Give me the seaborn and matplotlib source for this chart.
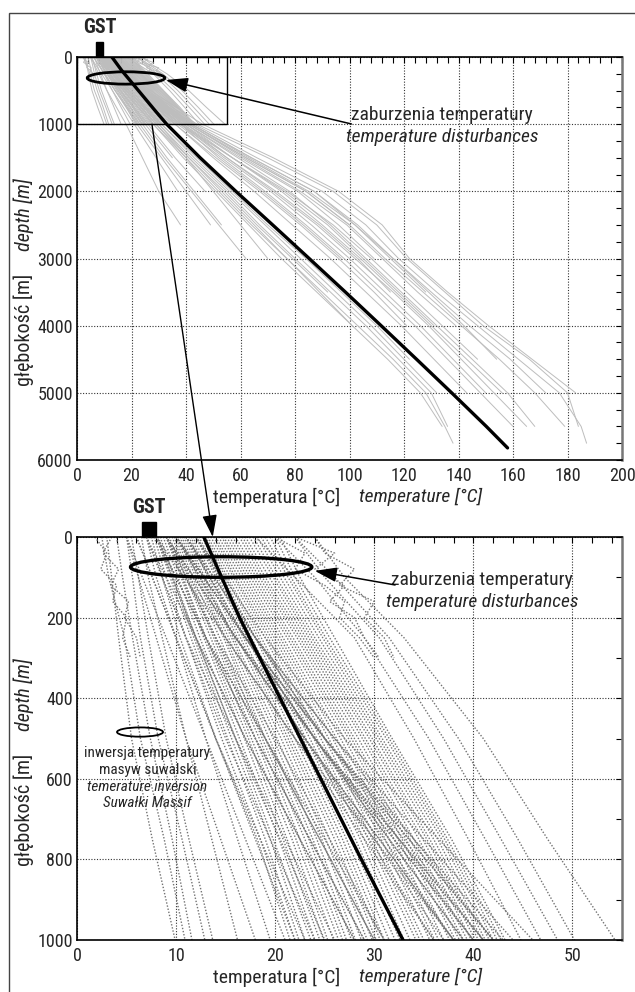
import matplotlib
matplotlib.use("Agg")
import matplotlib.pyplot as plt
import matplotlib.transforms as mtransforms
from matplotlib import font_manager as fm
from matplotlib.patches import Ellipse, Rectangle, ConnectionPatch
from matplotlib.ticker import MultipleLocator
import pandas as pd
import seaborn as sns

sns.set_theme(style="white")

# pick a condensed sans family (narrow lettering)
_condensed = {}
for f in fm.fontManager.ttflist:
    if (f.stretch in ("condensed", "semi-condensed", "extra-condensed")
            or "Narrow" in f.name or "Condensed" in f.name):
        _condensed.setdefault(f.name, set()).add(f.style)
FAMILY, STRETCH = "Liberation Sans", "normal"
for fam in ["Liberation Sans Narrow", "Roboto Condensed", "Noto Sans", "Open Sans",
            "DejaVu Sans Condensed", "DejaVu Sans", "Inter", "Lato", "Roboto"]:
    if fam in _condensed:
        FAMILY = fam
        STRETCH = "normal" if ("Narrow" in fam or "Condensed" in fam) else "condensed"
        break
plt.rcParams["font.family"] = [FAMILY, "DejaVu Sans"]
plt.rcParams["font.stretch"] = STRETCH

# ---- mean geotherm -------------------------------------------------------
MEAN_Z = [0, 200, 400, 600, 800, 1000, 1500, 2000, 2500, 3000, 3500, 4000, 4500,
          5000, 5500, 5820]
MEAN_T = [12.8, 16.4, 20.5, 24.6, 28.7, 32.9, 45.2, 58.3, 71.8, 85.2, 98.5, 111.6,
          124.6, 137.5, 150.2, 158.0]

# ---- deep boreholes (temperature at DEEP_Z, truncated at the well bottom) --
DEEP_Z = [0, 250, 500, 1000, 1500, 2000, 2500, 3000, 3500, 4000, 4500, 5000, 5500, 5750]
HOT_WELLS = [
    [10, 17, 25, 43, 66, 90, 106, 118, 132, 147, 162, 177, 185, 187],
    [12, 19, 27, 46, 72, 96, 112, 122, 136, 151, 167, 183],
    [11, 18, 26, 44, 70, 94, 110, 121, 135, 149, 166, 180, 184],
    [10, 17, 25, 42, 64, 87, 103, 116, 130, 144, 159, 172],
    [9, 16, 24, 41, 62, 84, 100, 113, 127, 141, 155, 168, 179],
    [11, 18, 25, 42, 63, 85, 102, 116, 129, 142, 154],
    [10, 17, 24, 41, 61, 82, 99, 112, 125, 139],
]
MID_WELLS = [
    [10, 17, 24, 40, 59, 78, 93, 106, 119, 132, 145, 158, 168],
    [9, 16, 24, 40, 57, 75, 90, 104, 117, 130, 143, 156],
    [11, 17, 24, 39, 57, 76, 92, 105, 118, 131],
    [10, 17, 24, 39, 55, 72, 88, 102, 116, 129, 141, 153, 165],
    [8, 15, 22, 38, 54, 71, 86, 100, 113, 126, 138, 150],
    [12, 18, 25, 40, 60, 81, 96, 109],
    [10, 16, 23, 37, 53, 69, 84, 98, 111, 124, 136, 148, 160],
    [9, 15, 22, 36, 51, 67, 82, 96, 109, 121],
    [11, 17, 25, 41, 62, 84, 100],
    [10, 16, 23, 38, 57, 77, 94, 108, 121, 134, 147],
    [9, 16, 23, 38, 55, 73, 89, 103, 115],
    [12, 18, 26, 42, 64, 87, 102, 115, 128],
    [10, 16, 23, 36, 50, 65, 79, 93, 106, 119, 131, 143],
    [11, 17, 24, 38, 52, 68, 83, 97],
]
COLD_WELLS = [
    [8, 13, 19, 30, 42, 55, 67, 80, 93, 106, 118, 130, 136],
    [9, 14, 19, 30, 41, 53, 65, 77, 90, 103, 116, 128, 135, 138],
    [8, 12, 17, 28, 39, 51, 63, 75, 88, 101, 114, 126, 134],
    [9, 14, 20, 31, 43, 56, 69, 82, 95, 108, 120, 132],
    [7, 12, 17, 28, 40, 52, 64, 77, 89, 101],
    [8, 13, 18, 29, 40, 50, 60, 70],
    [6, 10, 14, 23, 32, 42, 52, 62],
    [7, 11, 15, 24, 33, 43, 53],
    [5, 9, 13, 21, 29, 37],
    [6, 10, 14, 22, 31, 40, 49],
    [8, 12, 16, 26, 36, 47],
    [7, 11, 16, 25, 35],
    [9, 13, 18, 29, 41, 54, 66, 79, 92],
    [8, 13, 19, 31, 44, 57, 70, 84, 97, 110, 122],
    [5, 8, 11, 18, 24, 30, 38],
]

# ---- shallow boreholes (temperature at SHALLOW_Z) ------------------------
SHALLOW_Z = [0, 100, 250, 500, 750, 1000]
SUWALKI_WELLS = [
    [3.0, 3.5, 4.2, 5.5, 7.6, 9.9],
    [2.5, 3.2, 4.8, 6.4, 8.8, 10.9],
    [4.0, 4.6, 5.6, 7.4, 9.6, 11.6],
    [5.0, 5.6, 6.4, 8.2, 10.6, 12.9],
    [5.5, 6.2, 7.2, 9.0, 11.3, 13.7],
    [6.5, 7.2, 8.6, 11.0, 13.6, 16.2],
    [7.0, 8.0, 10.0, 13.0, 16.2, 19.5],
]
BAND_WELLS = [
    [7.5, 8.6, 10.4, 14.0, 18.2, 21.5],
    [8.0, 9.4, 11.5, 15.2, 19.0, 22.4],
    [8.4, 9.8, 12.0, 16.0, 19.8, 23.6],
    [9.0, 10.5, 12.8, 16.9, 20.8, 24.5],
    [9.3, 11.0, 13.5, 17.6, 21.7, 25.3],
    [9.8, 11.4, 14.0, 18.4, 22.5, 26.4],
    [10.2, 12.0, 14.8, 19.0, 23.4, 27.2],
    [10.6, 12.4, 15.3, 19.8, 24.2, 28.1],
    [11.0, 12.9, 15.8, 20.6, 25.1, 29.3],
    [11.5, 13.4, 16.5, 21.3, 26.0, 30.2],
    [12.0, 14.0, 17.2, 22.0, 26.8, 31.0],
    [12.3, 14.5, 17.6, 22.8, 27.6, 32.1],
    [12.8, 15.0, 18.3, 23.5, 28.6, 33.0],
    [13.2, 15.5, 19.0, 24.2, 29.4, 34.2],
    [13.8, 16.0, 19.6, 25.0, 30.2, 35.0],
    [14.3, 16.6, 20.2, 25.8, 31.1, 36.1],
    [14.8, 17.2, 20.8, 26.6, 32.0, 37.0],
    [15.4, 17.8, 21.5, 27.4, 32.8, 38.2],
    [16.0, 18.4, 22.2, 28.0, 33.6, 39.0],
    [16.7, 19.0, 22.8, 28.8, 34.5, 39.8],
    [17.4, 19.8, 23.4, 29.5, 35.3, 40.5],
    [18.2, 20.5, 24.0, 30.2, 36.0, 41.2],
    [19.0, 21.3, 24.8, 30.8, 36.8, 42.0],
    [20.0, 22.0, 25.5, 31.5, 37.4, 42.8],
]
BAND_WELLS_B = [
    [7.8, 9.0, 11.0, 14.6, 18.5, 22.0],
    [8.2, 9.6, 11.8, 15.6, 19.5, 23.0],
    [8.7, 10.2, 12.4, 16.4, 20.4, 24.0],
    [9.1, 10.7, 13.0, 17.3, 21.2, 24.9],
    [9.6, 11.2, 13.8, 18.0, 22.1, 25.9],
    [10.0, 11.7, 14.4, 18.7, 23.0, 26.8],
    [10.4, 12.2, 15.0, 19.4, 23.8, 27.7],
    [10.8, 12.7, 15.6, 20.2, 24.7, 28.7],
    [11.3, 13.2, 16.2, 21.0, 25.5, 29.8],
    [11.7, 13.7, 16.8, 21.6, 26.4, 30.6],
    [12.1, 14.2, 17.4, 22.4, 27.2, 31.5],
    [12.6, 14.7, 18.0, 23.1, 28.1, 32.6],
    [13.0, 15.2, 18.6, 23.9, 29.0, 33.6],
    [13.5, 15.8, 19.3, 24.6, 29.8, 34.6],
    [14.0, 16.3, 19.9, 25.4, 30.7, 35.6],
    [14.6, 16.9, 20.5, 26.2, 31.5, 36.5],
    [15.1, 17.5, 21.2, 27.0, 32.4, 37.6],
    [15.7, 18.1, 21.8, 27.7, 33.2, 38.6],
    [16.4, 18.7, 22.5, 28.4, 34.0, 39.4],
    [17.0, 19.4, 23.1, 29.1, 34.9, 40.2],
    [17.8, 20.1, 23.7, 29.8, 35.6, 40.9],
    [18.6, 20.9, 24.4, 30.5, 36.4, 41.6],
    [19.5, 21.6, 25.1, 31.2, 37.1, 42.4],
    [20.5, 22.5, 26.0, 31.8, 37.8, 43.2],
]
WARM_WELLS = [
    [18.0, 22.0, 28.0, 34.0, 39.5, 44.8],
    [20.0, 24.0, 29.0, 35.5, 41.2, 46.8],
    [22.0, 25.0, 30.5, 37.0, 42.8, 48.5],
    [22.0, 26.0, 31.5, 38.5, 44.5, 50.2],
    [24.0, 27.0, 33.0, 41.0, 47.5, 54.3],
]

# ---- near-surface disturbed logs -----------------------------------------
DISTURBED_Z = [0, 40, 80, 120, 160, 200, 250, 300]
DISTURBED_T = [
    [22.0, 26.0, 24.0, 27.0, 25.5, 28.0, 29.0, 30.5],
    [24.0, 25.0, 28.0, 26.5, 30.0, 29.0, 31.0, 32.0],
    [20.0, 23.0, 22.0, 25.0, 27.0, 26.5, 28.5, 30.0],
    [1.8, 3.0, 2.4, 4.0, 3.6, 5.0, 4.6, 5.4],
    [3.5, 2.6, 4.2, 3.4, 5.2, 4.8, 6.0, 6.4],
]

GST_TOP, GST_BOTTOM = 8.4, 7.27


def to_long(groups, grid, prefix):
    rows = []
    for g, wells in enumerate(groups):
        for i, temps in enumerate(wells):
            for z, t in zip(grid, temps):
                rows.append((f"{prefix}{g}_{i}", z, t))
    return rows


records = to_long([HOT_WELLS, MID_WELLS, COLD_WELLS], DEEP_Z, "d")
records += to_long([SUWALKI_WELLS, BAND_WELLS, BAND_WELLS_B, WARM_WELLS], SHALLOW_Z, "s")
records += to_long([DISTURBED_T], DISTURBED_Z, "x")
wells = pd.DataFrame(records, columns=["well", "depth", "temp"])
mean = pd.DataFrame({"depth": MEAN_Z, "temp": MEAN_T})

W, H = 635, 992
fig = plt.figure(figsize=(W / 100, H / 100), dpi=100)
ax1 = fig.add_axes([77 / W, 532 / H, 545 / W, 403 / H])
ax2 = fig.add_axes([77 / W, 52 / H, 545 / W, 403 / H])

# outer frame of the figure
fig.add_artist(Rectangle((9 / W, -0.05), 1.1, 1 - 13 / H + 0.05, transform=fig.transFigure,
                         fill=False, lw=1.0, ec="#444444"))

sns.lineplot(data=wells, x="temp", y="depth", units="well", estimator=None, sort=False,
             color="#bdbdbd", lw=0.7, ax=ax1, legend=False)
sns.lineplot(data=wells, x="temp", y="depth", units="well", estimator=None, sort=False,
             color="#727272", lw=1.0, linestyle=(0, (1, 1.3)), ax=ax2, legend=False)
for ax in (ax1, ax2):
    sns.lineplot(data=mean, x="temp", y="depth", sort=False, estimator=None,
                 color="black", lw=2.4, ax=ax, legend=False, zorder=4)

ax1.set_xlim(0, 200)
ax1.set_ylim(6000, 0)
ax1.xaxis.set_major_locator(MultipleLocator(20))
ax1.xaxis.set_minor_locator(MultipleLocator(4))
ax1.yaxis.set_major_locator(MultipleLocator(1000))
ax1.yaxis.set_minor_locator(MultipleLocator(250))

ax2.set_xlim(0, 55)
ax2.set_ylim(1000, 0)
ax2.xaxis.set_major_locator(MultipleLocator(10))
ax2.xaxis.set_minor_locator(MultipleLocator(2))
ax2.yaxis.set_major_locator(MultipleLocator(200))
ax2.yaxis.set_minor_locator(MultipleLocator(100))

for ax in (ax1, ax2):
    ax.set_xlabel("")
    ax.set_ylabel("")
    ax.grid(True, which="major", ls=(0, (1, 1.5)), color="#333333", lw=0.8)
    ax.tick_params(which="both", direction="in", top=True, right=True,
                   length=4, width=0.8, color="black")
    ax.tick_params(axis="x", which="major", labelsize=13, pad=5)
    ax.tick_params(axis="y", which="major", labelsize=13, pad=3)
    for sp in ax.spines.values():
        sp.set_color("black")
        sp.set_linewidth(1.2)
        sp.set_zorder(6)
    ax.spines["right"].set_color("#777777")
    ax.spines["right"].set_linewidth(1.8)
    ax.text(0.367, -0.092, "temperatura [°C]", transform=ax.transAxes, ha="center",
            va="center", fontsize=14)
    ax.text(0.631, -0.092, "temperature [°C]", transform=ax.transAxes, ha="center",
            va="center", fontsize=14, style="italic")
    ax.text(-0.097, 0.323, "głębokość [m]", transform=ax.transAxes, ha="center",
            va="center", fontsize=14.5, rotation=90)
    ax.text(-0.097, 0.608, "depth [m]", transform=ax.transAxes, ha="center",
            va="center", fontsize=14.5, rotation=90, style="italic")

# GST markers above both panels
for ax, gst, half in ((ax1, GST_TOP, 1.3), (ax2, GST_BOTTOM, 0.7)):
    tr = mtransforms.blended_transform_factory(ax.transData, ax.transAxes)
    ax.add_patch(Rectangle((gst - half, 1.0), 2 * half, 0.037, transform=tr,
                           color="black", clip_on=False))
    ax.text(gst, 1.072, "GST", transform=tr, ha="center", va="center",
            fontsize=14.5, fontweight="bold")

arrow_style = dict(arrowstyle="-|>,head_length=0.9,head_width=0.3", mutation_scale=15,
                   color="black", lw=1.1, shrinkA=0, shrinkB=0)

# top panel: zoom frame, disturbance ellipse and its note
ax1.add_patch(Rectangle((0, 0), 55, 1000, fill=False, ec="black", lw=1.0, zorder=5))
ax1.add_patch(Ellipse((18, 312), 28.5, 184, fill=False, ec="black", lw=2.0, zorder=5))
ax1.text(134, 863, "zaburzenia temperatury", ha="center", va="center", fontsize=14)
ax1.text(134, 1190, "temperature disturbances", ha="center", va="center", fontsize=14,
         style="italic")
ax1.annotate("", xy=(32.6, 342), xytext=(100.7, 997), arrowprops=arrow_style, zorder=5)

# link from the zoom frame to the lower panel
con = ConnectionPatch(xyA=(27.5, 1000), coordsA=ax1.transData,
                      xyB=(13.7, 0), coordsB=ax2.transData,
                      arrowstyle="-|>,head_length=0.9,head_width=0.3", mutation_scale=15,
                      color="black", lw=1.0, shrinkA=0, shrinkB=0, zorder=6)
fig.add_artist(con)

# bottom panel: disturbance ellipse, inversion ellipse and notes
ax2.add_patch(Ellipse((14.55, 74.5), 18.3, 51, fill=False, ec="black", lw=2.4, zorder=5))
ax2.text(40.9, 107, "zaburzenia temperatury", ha="center", va="center", fontsize=14)
ax2.text(40.9, 161, "temperature disturbances", ha="center", va="center", fontsize=14,
         style="italic")
ax2.annotate("", xy=(24.0, 84), xytext=(32.1, 119), arrowprops=arrow_style, zorder=5)

ax2.add_patch(Ellipse((6.36, 484), 4.64, 23, fill=False, ec="black", lw=1.3, zorder=5))
inv_lines = [("inwersja temperatury", "normal", 536), ("masyw suwalski", "normal", 578),
             ("temerature inversion", "italic", 620), ("Suwałki Massif", "italic", 660)]
for txt, st, z in inv_lines:
    ax2.text(7.1, z, txt, ha="center", va="center", fontsize=11, style=st, zorder=5)

fig.savefig("out.png", dpi=100)
